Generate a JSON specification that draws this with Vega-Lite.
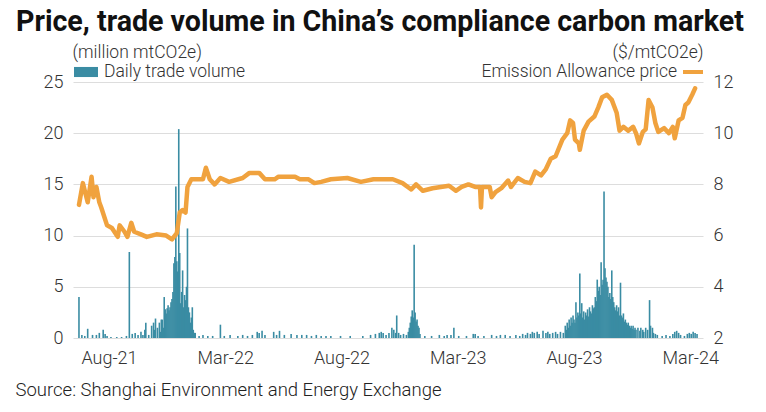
{
  "$schema": "https://vega.github.io/schema/vega-lite/v6.json",
  "autosize": "none",
  "width": 630,
  "height": 256,
  "padding": {"left": 73, "top": 82, "right": 63, "bottom": 74},
  "background": "white",
  "config": {
    "view": {"stroke": null},
    "font": "Roboto",
    "axis": {"labelFont": "Roboto", "titleFont": "Roboto", "labelFontWeight": 300, "titleFontWeight": 300, "labelColor": "#333333", "titleColor": "#333333", "labelFontSize": 18, "titleFontSize": 17.5},
    "legend": {"labelFont": "Roboto", "labelFontWeight": 300, "labelFontSize": 17.5, "labelColor": "#333333", "labelLimit": 400}
  },
  "title": {
    "text": "Price, trade volume in China’s compliance carbon market",
    "anchor": "start",
    "frame": "group",
    "dx": -57,
    "offset": 6,
    "font": "Roboto",
    "fontSize": 28.6,
    "fontWeight": "bold",
    "color": "#111111"
  },
  "datasets": {
    "volume": [
      {"day":1,"vol":4.0},{"day":4,"vol":0.3},{"day":7,"vol":0.2},{"day":10,"vol":0.9},{"day":15,"vol":0.3},{"day":19,"vol":0.3},{"day":22,"vol":0.5},{"day":26,"vol":0.8},{"day":28,"vol":0.4},{"day":30,"vol":0.2},{"day":34,"vol":0.1},{"day":40,"vol":0.1},{"day":45,"vol":0.1},{"day":50,"vol":0.2},
      {"day":53,"vol":8.4},{"day":56,"vol":0.4},{"day":59,"vol":0.5},{"day":62,"vol":0.3},{"day":65,"vol":0.6},{"day":67,"vol":0.3},{"day":69,"vol":0.8},{"day":70,"vol":1.5},{"day":73,"vol":0.3},{"day":76,"vol":1.2},{"day":78,"vol":1.5},{"day":79,"vol":0.8},{"day":80,"vol":1.9},{"day":82,"vol":1.0},{"day":84,"vol":1.5},{"day":85,"vol":0.6},{"day":86,"vol":1.8},
      {"day":87,"vol":1.8},{"day":88,"vol":1.0},{"day":89,"vol":4.0},{"day":90,"vol":2.8},{"day":91,"vol":2.4},{"day":92,"vol":2.9},{"day":93,"vol":3.2},{"day":94,"vol":2.7},{"day":95,"vol":3.0},{"day":96,"vol":3.5},{"day":97,"vol":3.8},{"day":98,"vol":4.5},{"day":99,"vol":7.3},{"day":100,"vol":7.9},{"day":101,"vol":14.8},{"day":102,"vol":7.5},{"day":103,"vol":6.5},{"day":104,"vol":20.4},{"day":105,"vol":8.3},{"day":106,"vol":3.4},{"day":107,"vol":4.5},{"day":108,"vol":6.6},{"day":109,"vol":3.0},{"day":110,"vol":4.2},{"day":111,"vol":3.7},{"day":112,"vol":5.0},{"day":113,"vol":10.7},{"day":114,"vol":3.0},{"day":115,"vol":2.5},{"day":116,"vol":1.5},{"day":117,"vol":2.0},{"day":118,"vol":3.0},{"day":119,"vol":0.8},{"day":120,"vol":0.5},{"day":121,"vol":0.5},
      {"day":125,"vol":0.2},{"day":129,"vol":0.3},{"day":134,"vol":0.2},{"day":139,"vol":0.2},{"day":147,"vol":1.3},{"day":151,"vol":0.2},{"day":157,"vol":0.3},{"day":165,"vol":0.2},{"day":170,"vol":0.3},{"day":175,"vol":0.2},{"day":180,"vol":0.3},{"day":185,"vol":0.6},{"day":187,"vol":0.5},{"day":190,"vol":0.7},{"day":193,"vol":0.3},{"day":202,"vol":0.6},{"day":205,"vol":0.3},{"day":208,"vol":0.7},{"day":213,"vol":0.3},{"day":220,"vol":0.4},{"day":226,"vol":0.3},{"day":231,"vol":0.3},{"day":236,"vol":0.3},{"day":241,"vol":0.2},{"day":246,"vol":0.3},{"day":251,"vol":0.2},{"day":256,"vol":0.2},{"day":261,"vol":0.2},{"day":271,"vol":0.2},{"day":281,"vol":0.2},{"day":294,"vol":0.2},{"day":302,"vol":0.3},{"day":307,"vol":0.4},{"day":311,"vol":0.5},{"day":313,"vol":0.6},{"day":315,"vol":0.5},{"day":318,"vol":0.3},{"day":321,"vol":0.5},{"day":324,"vol":1.0},{"day":326,"vol":0.8},{"day":328,"vol":0.5},{"day":329,"vol":2.2},{"day":331,"vol":0.5},{"day":333,"vol":0.3},{"day":336,"vol":0.4},{"day":339,"vol":0.3},
      {"day":341,"vol":0.6},{"day":342,"vol":1.0},{"day":343,"vol":1.5},{"day":344,"vol":2.1},{"day":345,"vol":2.7},{"day":346,"vol":2.0},{"day":347,"vol":9.1},{"day":348,"vol":2.5},{"day":349,"vol":1.6},{"day":350,"vol":1.8},{"day":351,"vol":1.2},{"day":352,"vol":1.0},{"day":353,"vol":0.4},
      {"day":358,"vol":0.2},{"day":365,"vol":0.2},{"day":373,"vol":0.3},{"day":378,"vol":0.2},{"day":381,"vol":0.3},{"day":385,"vol":0.3},{"day":388,"vol":1.0},{"day":393,"vol":0.2},{"day":401,"vol":0.2},{"day":408,"vol":0.4},{"day":410,"vol":0.4},{"day":413,"vol":0.2},{"day":419,"vol":0.2},{"day":427,"vol":0.3},{"day":432,"vol":0.2},{"day":436,"vol":0.3},{"day":441,"vol":0.3},{"day":446,"vol":0.2},{"day":452,"vol":0.3},{"day":456,"vol":0.2},{"day":459,"vol":0.4},{"day":462,"vol":0.3},{"day":464,"vol":0.5},{"day":467,"vol":0.4},{"day":469,"vol":0.6},{"day":471,"vol":0.5},{"day":474,"vol":0.6},{"day":476,"vol":0.4},{"day":480,"vol":0.7},{"day":483,"vol":0.5},{"day":485,"vol":0.6},{"day":487,"vol":0.4},{"day":490,"vol":0.5},{"day":493,"vol":0.6},{"day":495,"vol":0.4},{"day":498,"vol":0.6},{"day":501,"vol":0.5},
      {"day":503,"vol":1.2},{"day":504,"vol":0.8},{"day":505,"vol":1.5},{"day":506,"vol":1.0},{"day":507,"vol":1.8},{"day":508,"vol":1.2},{"day":509,"vol":2.0},{"day":510,"vol":1.5},{"day":511,"vol":2.2},{"day":512,"vol":1.8},{"day":513,"vol":1.5},{"day":514,"vol":3.5},{"day":515,"vol":2.0},{"day":516,"vol":2.5},{"day":517,"vol":2.2},{"day":518,"vol":6.3},{"day":519,"vol":2.4},{"day":520,"vol":3.4},{"day":521,"vol":2.0},{"day":522,"vol":2.6},{"day":523,"vol":1.8},{"day":524,"vol":2.5},{"day":525,"vol":2.2},{"day":526,"vol":2.8},{"day":527,"vol":2.1},{"day":528,"vol":3.0},{"day":529,"vol":2.6},{"day":530,"vol":2.4},{"day":531,"vol":3.2},{"day":532,"vol":2.9},{"day":533,"vol":3.0},{"day":534,"vol":4.0},{"day":535,"vol":3.6},{"day":536,"vol":5.7},{"day":537,"vol":4.6},{"day":538,"vol":5.0},{"day":539,"vol":4.2},{"day":540,"vol":7.4},{"day":541,"vol":5.2},{"day":542,"vol":5.7},{"day":543,"vol":14.3},{"day":544,"vol":6.8},{"day":545,"vol":5.9},{"day":546,"vol":5.5},{"day":547,"vol":5.0},{"day":548,"vol":4.0},{"day":549,"vol":4.4},{"day":550,"vol":3.8},{"day":551,"vol":6.6},{"day":552,"vol":4.0},{"day":553,"vol":3.5},{"day":554,"vol":3.0},{"day":555,"vol":2.7},{"day":556,"vol":3.2},{"day":557,"vol":2.6},{"day":558,"vol":3.0},{"day":559,"vol":2.2},{"day":560,"vol":5.4},{"day":561,"vol":2.2},{"day":562,"vol":2.0},{"day":563,"vol":2.4},{"day":564,"vol":1.6},{"day":565,"vol":1.8},{"day":566,"vol":1.5},{"day":567,"vol":1.3},{"day":568,"vol":1.5},{"day":569,"vol":1.2},{"day":570,"vol":1.0},{"day":571,"vol":1.2},{"day":572,"vol":0.9},{"day":573,"vol":1.2},{"day":574,"vol":0.8},{"day":575,"vol":1.0},{"day":576,"vol":0.8},{"day":578,"vol":1.0},{"day":580,"vol":0.7},{"day":581,"vol":1.0},{"day":583,"vol":0.8},{"day":584,"vol":0.6},{"day":586,"vol":1.0},{"day":588,"vol":0.8},{"day":590,"vol":3.7},{"day":591,"vol":1.2},{"day":593,"vol":1.0},{"day":594,"vol":0.5},
      {"day":596,"vol":0.4},{"day":598,"vol":0.3},{"day":603,"vol":0.2},{"day":607,"vol":0.3},{"day":611,"vol":0.2},{"day":614,"vol":0.4},{"day":616,"vol":0.6},{"day":618,"vol":0.7},{"day":620,"vol":0.5},{"day":622,"vol":0.3},{"day":626,"vol":0.2},{"day":629,"vol":0.4},{"day":631,"vol":0.5},{"day":633,"vol":0.4},{"day":635,"vol":0.6},{"day":637,"vol":0.5},{"day":639,"vol":0.4}
    ],
    "price": [
      {"day":1,"price":7.2},{"day":5,"price":8.05},{"day":10,"price":7.3},{"day":14,"price":8.3},{"day":16,"price":7.5},{"day":19,"price":7.9},{"day":22,"price":7.3},{"day":24,"price":7.1},{"day":30,"price":6.4},{"day":35,"price":6.3},{"day":41,"price":5.95},{"day":43,"price":6.4},{"day":48,"price":6.15},{"day":51,"price":5.95},{"day":55,"price":6.5},{"day":58,"price":6.15},{"day":65,"price":6.05},{"day":71,"price":5.95},{"day":81,"price":6.05},{"day":91,"price":6.0},{"day":97,"price":5.85},{"day":102,"price":6.1},{"day":105,"price":6.9},{"day":108,"price":7.0},{"day":111,"price":6.9},{"day":113,"price":7.9},{"day":117,"price":8.2},{"day":122,"price":8.2},{"day":129,"price":8.2},{"day":132,"price":8.65},{"day":136,"price":8.2},{"day":141,"price":8.0},{"day":147,"price":8.25},{"day":156,"price":8.1},{"day":170,"price":8.25},{"day":177,"price":8.45},{"day":187,"price":8.45},{"day":193,"price":8.2},{"day":203,"price":8.2},{"day":207,"price":8.3},{"day":224,"price":8.3},{"day":229,"price":8.2},{"day":238,"price":8.2},{"day":244,"price":8.05},{"day":251,"price":8.1},{"day":261,"price":8.2},{"day":278,"price":8.25},{"day":292,"price":8.1},{"day":305,"price":8.2},{"day":325,"price":8.2},{"day":335,"price":8.05},{"day":344,"price":7.8},{"day":349,"price":8.0},{"day":356,"price":7.75},{"day":366,"price":7.85},{"day":383,"price":7.95},{"day":390,"price":7.75},{"day":396,"price":7.9},{"day":403,"price":8.0},{"day":410,"price":7.9},{"day":415,"price":7.9},{"day":416,"price":7.1},{"day":417,"price":7.9},{"day":425,"price":7.9},{"day":427,"price":7.5},{"day":431,"price":7.7},{"day":437,"price":7.85},{"day":444,"price":8.15},{"day":447,"price":7.9},{"day":454,"price":8.25},{"day":461,"price":8.1},{"day":467,"price":8.05},{"day":472,"price":8.5},{"day":478,"price":8.35},{"day":483,"price":8.6},{"day":488,"price":9.0},{"day":493,"price":9.1},{"day":500,"price":9.75},{"day":505,"price":10.0},{"day":508,"price":10.5},{"day":511,"price":10.4},{"day":513,"price":9.75},{"day":517,"price":9.6},{"day":518,"price":9.35},{"day":522,"price":10.1},{"day":527,"price":10.45},{"day":533,"price":10.65},{"day":537,"price":11.0},{"day":541,"price":11.4},{"day":546,"price":11.5},{"day":551,"price":11.3},{"day":556,"price":10.8},{"day":559,"price":10.1},{"day":563,"price":10.25},{"day":568,"price":10.1},{"day":573,"price":10.25},{"day":576,"price":10.0},{"day":579,"price":9.6},{"day":583,"price":10.05},{"day":586,"price":10.15},{"day":589,"price":11.3},{"day":593,"price":11.0},{"day":596,"price":10.4},{"day":599,"price":10.05},{"day":605,"price":10.2},{"day":610,"price":10.0},{"day":614,"price":10.25},{"day":616,"price":9.8},{"day":620,"price":10.5},{"day":624,"price":10.6},{"day":627,"price":11.1},{"day":630,"price":11.2},{"day":634,"price":11.5},{"day":637,"price":11.75}
    ]
  },
  "layer": [
    {
      "data": {"name": "volume"},
      "mark": {"type": "bar", "width": 1.6},
      "encoding": {
        "x": {
          "field": "day", "type": "quantitative",
          "scale": {"domain": [0, 640], "nice": false, "zero": false},
          "axis": {
            "values": [32, 152, 272, 392, 512, 632],
            "labelExpr": "['Aug-21','Mar-22','Aug-22','Mar-23','Aug-23','Mar-24'][round((datum.value-32)/120)]",
            "grid": false, "domain": false, "ticks": false, "labelPadding": 11,
            "title": "Source: Shanghai Environment and Energy Exchange",
            "titleAnchor": "start", "titleAlign": "left", "titleBaseline": "alphabetic",
            "titleX": -58, "titleY": 57, "titleFontSize": 18.5, "titleColor": "#222222"
          }
        },
        "y": {
          "field": "vol", "type": "quantitative",
          "scale": {"domain": [0, 25], "nice": false},
          "axis": {
            "values": [0, 5, 10, 15, 20, 25],
            "grid": true, "gridColor": "#dddddd", "gridWidth": 1,
            "domain": false, "ticks": false, "labelPadding": 10,
            "title": "(million mtCO2e)", "titleAngle": 0, "titleAlign": "left", "titleBaseline": "alphabetic",
            "titleX": -1, "titleY": -25, "titleColor": "#333333"
          }
        },
        "fill": {
          "datum": "Daily trade volume", "type": "nominal",
          "scale": {"range": ["#3a8ca3"]},
          "legend": {
            "orient": "none", "legendX": 1, "legendY": -22, "title": null, "padding": 0,
            "symbolType": "M-1,-0.42H1V0.42H-1Z", "symbolSize": 576, "symbolStrokeWidth": 0,
            "symbolFillColor": "#2f7f98", "labelOffset": 6
          }
        }
      }
    },
    {
      "data": {"name": "price"},
      "mark": {"type": "line", "strokeWidth": 4.5, "strokeJoin": "round", "strokeCap": "round"},
      "encoding": {
        "x": {"field": "day", "type": "quantitative"},
        "y": {
          "field": "price", "type": "quantitative",
          "scale": {"domain": [2, 12], "nice": false, "zero": false},
          "axis": {
            "orient": "right",
            "values": [2, 4, 6, 8, 10, 12],
            "grid": false, "domain": false, "ticks": false, "labelPadding": 10,
            "title": "($/mtCO2e)", "titleAngle": 0, "titleAlign": "right", "titleBaseline": "alphabetic",
            "titleX": 0, "titleY": -25, "titleColor": "#333333"
          }
        },
        "stroke": {
          "datum": "Emission Allowance price", "type": "nominal",
          "scale": {"range": ["#f0a23e"]},
          "legend": {
            "orient": "none", "legendX": 608, "legendY": -22, "title": null, "padding": 0,
            "symbolType": "stroke", "symbolSize": 400, "symbolStrokeWidth": 4,
            "labelAlign": "right", "labelOffset": -28
          }
        }
      }
    }
  ],
  "resolve": {"scale": {"y": "independent"}}
}
